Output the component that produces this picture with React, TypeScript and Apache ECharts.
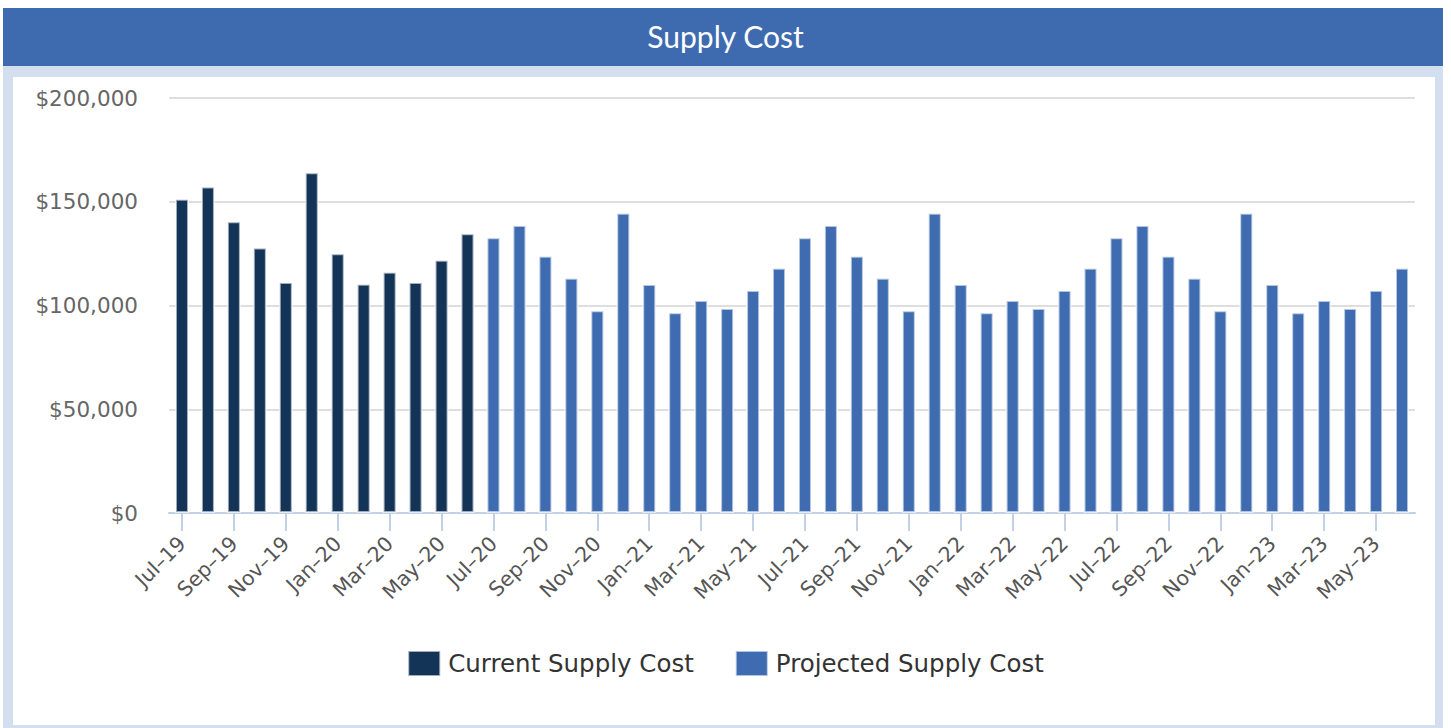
import React, { useEffect, useRef } from "react";
import * as echarts from "echarts";

const months = [
  "Jul–19", "Aug–19", "Sep–19", "Oct–19", "Nov–19", "Dec–19",
  "Jan–20", "Feb–20", "Mar–20", "Apr–20", "May–20", "Jun–20",
  "Jul–20", "Aug–20", "Sep–20", "Oct–20", "Nov–20", "Dec–20",
  "Jan–21", "Feb–21", "Mar–21", "Apr–21", "May–21", "Jun–21",
  "Jul–21", "Aug–21", "Sep–21", "Oct–21", "Nov–21", "Dec–21",
  "Jan–22", "Feb–22", "Mar–22", "Apr–22", "May–22", "Jun–22",
  "Jul–22", "Aug–22", "Sep–22", "Oct–22", "Nov–22", "Dec–22",
  "Jan–23", "Feb–23", "Mar–23", "Apr–23", "May–23", "Jun–23",
];

// Jul-19 .. Jun-20
const currentSupplyCost = [
  151500, 157300, 140600, 128000, 111300, 164200,
  125200, 110500, 116300, 111300, 122100, 134800,
];

// Jul-20 .. Jun-23
const projectedSupplyCost = [
  132900, 138800, 124000, 113400, 97700, 144700,
  110400, 96700, 102700, 98800, 107500, 118200,
  132900, 138800, 124000, 113400, 97700, 144700,
  110400, 96700, 102700, 98800, 107500, 118200,
  132900, 138800, 124000, 113400, 97700, 144700,
  110400, 96700, 102700, 98800, 107500, 118200,
];

const yTicks = { min: 0, max: 200000, interval: 50000 };

const TITLE_BLUE = "#3e6baf";
const FRAME = "#d3deee";
const DARK = "#143457";
const LIGHT = "#3f6cb0";

export default function App() {
  const ref = useRef<HTMLDivElement>(null);

  useEffect(() => {
    if (!ref.current) return;
    const chart = echarts.init(ref.current, null, { renderer: "svg" });

    const currentData = months.map((_, i) =>
      i < currentSupplyCost.length ? currentSupplyCost[i] : "-"
    );
    const projectedData = months.map((_, i) =>
      i >= currentSupplyCost.length
        ? projectedSupplyCost[i - currentSupplyCost.length]
        : "-"
    );

    const font = "'DejaVu Sans', sans-serif";

    chart.setOption({
      animation: false,
      backgroundColor: "#ffffff",
      title: {
        text: "Supply Cost",
        left: "center",
        top: 21,
        padding: 0,
        textStyle: {
          color: "#ffffff",
          fontSize: 30,
          fontWeight: "normal",
          fontFamily: "Lato, sans-serif",
        },
      },
      graphic: [
        { type: "rect", z: -10, shape: { x: 3, y: 8, width: 1440, height: 58 }, style: { fill: TITLE_BLUE } },
        { type: "rect", z: -10, shape: { x: 3, y: 66, width: 1440, height: 11 }, style: { fill: FRAME } },
        { type: "rect", z: -10, shape: { x: 3, y: 77, width: 10, height: 651 }, style: { fill: FRAME } },
        { type: "rect", z: -10, shape: { x: 1435, y: 77, width: 8, height: 651 }, style: { fill: FRAME } },
        { type: "rect", z: -10, shape: { x: 13, y: 725, width: 1422, height: 3 }, style: { fill: FRAME } },
      ],
      legend: {
        data: ["Current Supply Cost", "Projected Supply Cost"],
        left: "center",
        top: 650,
        padding: 0,
        itemWidth: 32,
        itemHeight: 25,
        itemGap: 41,
        icon: "rect",
        textStyle: {
          color: "#333333",
          fontSize: 24.5,
          fontFamily: font,
          padding: [0, 0, 0, 3],
        },
      },
      grid: {
        left: 169,
        right: 36,
        top: 98,
        bottom: 215,
        containLabel: false,
      },
      xAxis: {
        type: "category",
        data: months,
        boundaryGap: true,
        axisLine: { show: true, lineStyle: { color: "#c2d1e5", width: 2 } },
        axisTick: {
          show: true,
          alignWithLabel: true,
          interval: 1,
          length: 18,
          lineStyle: { color: "#c2d1e5", width: 2 },
        },
        axisLabel: {
          interval: 1,
          rotate: 45,
          margin: 27,
          color: "#555555",
          fontSize: 20.5,
          fontFamily: font,
        },
        splitLine: { show: false },
      },
      yAxis: {
        type: "value",
        min: yTicks.min,
        max: yTicks.max,
        interval: yTicks.interval,
        axisLine: { show: false },
        axisTick: { show: false },
        axisLabel: {
          margin: 31,
          color: "#666666",
          fontSize: 21.5,
          fontFamily: font,
          padding: [0, 0, 8, 0],
          formatter: (v: number) => "$" + v.toLocaleString("en-US"),
        },
        splitLine: { show: true, lineStyle: { color: "#dedede", width: 2 } },
      },
      series: [
        {
          name: "Current Supply Cost",
          type: "bar",
          data: currentData,
          barWidth: 14,
          barGap: "-100%",
          itemStyle: { color: DARK, borderColor: "rgba(255,255,255,0.6)", borderWidth: 2 },
        },
        {
          name: "Projected Supply Cost",
          type: "bar",
          data: projectedData,
          barWidth: 14,
          barGap: "-100%",
          itemStyle: { color: LIGHT, borderColor: "rgba(255,255,255,0.6)", borderWidth: 2 },
        },
      ],
    });

    return () => chart.dispose();
  }, []);

  return (
    <div
      ref={ref}
      style={{ position: "absolute", left: 0, top: 0, width: 1451, height: 728 }}
    />
  );
}
